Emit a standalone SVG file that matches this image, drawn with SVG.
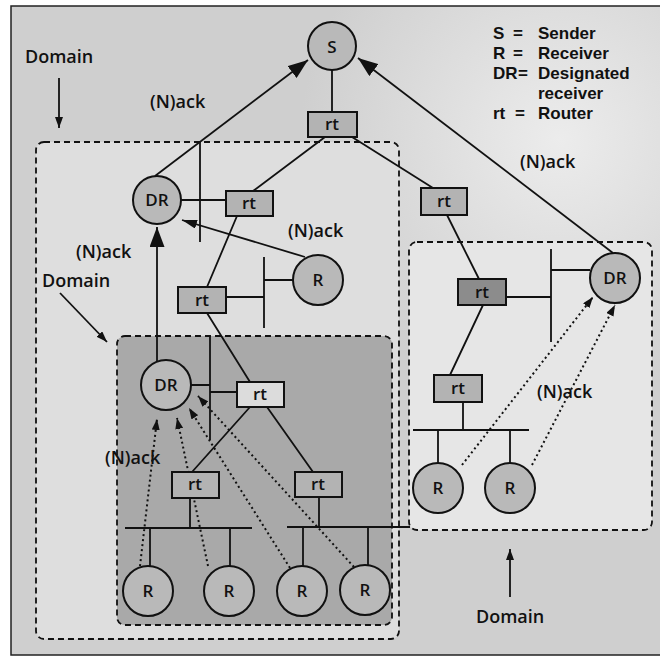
<svg xmlns="http://www.w3.org/2000/svg" width="660" height="658" viewBox="0 0 660 658">
<style>
.t{font-family:"Open Sans","Liberation Sans",sans-serif;font-weight:600;fill:#111}
.lbl{font-size:18px}
.lg{font-family:"Liberation Sans",Arial,sans-serif;font-weight:700;font-size:17px;fill:#111}
.nl{font-size:17px;text-anchor:middle}
.c{fill:#b9b9b9;stroke:#111;stroke-width:2}
.r{fill:#b3b3b3;stroke:#111;stroke-width:2}
.ln{stroke:#111;stroke-width:1.8;fill:none}
.dot{stroke:#111;stroke-width:2;fill:none;stroke-dasharray:2 3}
.dash{stroke:#111;stroke-width:1.8;stroke-dasharray:6 4}
</style>
<defs>
<marker id="big" markerUnits="userSpaceOnUse" viewBox="0 0 20 15" refX="20" refY="7.5" markerWidth="20" markerHeight="15" orient="auto"><path d="M0,0 L20,7.5 L0,15 z" fill="#111"/></marker>
<marker id="mid" markerUnits="userSpaceOnUse" viewBox="0 0 15 9" refX="15" refY="4.5" markerWidth="15" markerHeight="9" orient="auto"><path d="M0,0 L15,4.5 L0,9 z" fill="#111"/></marker>
<marker id="sm" markerUnits="userSpaceOnUse" viewBox="0 0 11 8" refX="11" refY="4" markerWidth="11" markerHeight="8" orient="auto"><path d="M0,0 L11,4 L0,8 z" fill="#111"/></marker>
<radialGradient id="glow" cx="560" cy="140" r="260" gradientUnits="userSpaceOnUse"><stop offset="0" stop-color="#ececec"/><stop offset="1" stop-color="#cfcfcf"/></radialGradient>
</defs>
<rect x="11" y="6" width="652" height="649" fill="url(#glow)" stroke="#222" stroke-width="1.5"/>

<g id="domains">
<rect x="36" y="142" width="363" height="497" rx="8" fill="#dedede" class="dash"/>
<rect x="117" y="336" width="275" height="289" rx="8" fill="#a9a9a9" class="dash"/>
<rect x="409" y="242" width="243" height="288" rx="8" fill="#e6e6e6" class="dash"/>
</g>

<g id="connectors">
<path class="ln" d="M332,70 V112 M325,137 L253,191 M352,137 L433,188 M181,200 H226 M200,141 V242 M237,216 L207,287 M226,297 H264 M264,257 V328 M264,280 H293 M207,313 L250,382 M191,385 H210 M210,337 V440 M210,392 H237 M250,407 L192,472 M267,407 L313,472 M190,498 V528 M125,528 H252 M150,528 V566 M230,528 V566 M319,497 V527 M287,527 H410 M303,527 V566 M368,527 V565 M447,215 L479,279 M506,297 H551 M551,249 V342 M551,270 H590 M483,305 L450,375 M463,402 V430 M413,430 H529 M438,430 V463 M510,430 V463"/>
<line class="ln" x1="155" y1="176" x2="308" y2="60" marker-end="url(#big)"/>
<line class="ln" x1="613" y1="253" x2="358" y2="58" marker-end="url(#big)"/>
<line class="ln" x1="157" y1="361" x2="157" y2="227" marker-end="url(#big)"/>
<line class="ln" x1="305" y1="257" x2="182" y2="220" marker-end="url(#mid)"/>
<line class="dot" x1="140" y1="566" x2="157" y2="419" marker-end="url(#sm)"/>
<line class="dot" x1="208" y1="566" x2="177" y2="418" marker-end="url(#sm)"/>
<line class="dot" x1="290" y1="568" x2="189" y2="408" marker-end="url(#sm)"/>
<line class="dot" x1="354" y1="567" x2="198" y2="396" marker-end="url(#sm)"/>
<line class="dot" x1="462" y1="465" x2="593" y2="297" marker-end="url(#sm)"/>
<line class="dot" x1="532" y1="465" x2="615" y2="305" marker-end="url(#sm)"/>
<line class="ln" x1="59" y1="78" x2="59" y2="128" marker-end="url(#sm)"/>
<line class="ln" x1="60" y1="293" x2="107" y2="342" marker-end="url(#sm)"/>
<line class="ln" x1="510" y1="597" x2="510" y2="549" marker-end="url(#sm)"/>
</g>

<g id="S"><circle class="c" cx="332" cy="46" r="24"/><text class="t nl" x="332" y="53" font-size="18">S</text></g>
<g id="rtS"><rect class="r" x="308" y="112" width="49" height="25"/><text class="t nl" x="332" y="130">rt</text></g>
<g id="DR1"><circle class="c" cx="157" cy="200" r="24"/><text class="t nl" x="157" y="206">DR</text></g>
<g id="rtL"><rect class="r" x="226" y="191" width="47" height="25"/><text class="t nl" x="249" y="209">rt</text></g>
<g id="Rmid"><circle class="c" cx="318" cy="280" r="25"/><text class="t nl" x="318" y="286">R</text></g>
<g id="rt2"><rect class="r" x="178" y="287" width="48" height="26"/><text class="t nl" x="202" y="306">rt</text></g>
<g id="DR2"><circle class="c" cx="166" cy="385" r="25"/><text class="t nl" x="166" y="391">DR</text></g>
<g id="rt3"><rect class="r" x="237" y="382" width="47" height="25" style="fill:#dcdcdc"/><text class="t nl" x="260" y="400">rt</text></g>
<g id="rt4"><rect class="r" x="172" y="472" width="47" height="26"/><text class="t nl" x="195" y="490">rt</text></g>
<g id="rt5"><rect class="r" x="295" y="472" width="47" height="25"/><text class="t nl" x="318" y="490">rt</text></g>
<g id="R1"><circle class="c" cx="148" cy="591" r="25"/><text class="t nl" x="148" y="597">R</text></g>
<g id="R2"><circle class="c" cx="229" cy="591" r="25"/><text class="t nl" x="229" y="597">R</text></g>
<g id="R3"><circle class="c" cx="302" cy="591" r="25"/><text class="t nl" x="302" y="597">R</text></g>
<g id="R4"><circle class="c" cx="365" cy="590" r="25"/><text class="t nl" x="365" y="596">R</text></g>
<g id="rtR"><rect class="r" x="421" y="188" width="46" height="27"/><text class="t nl" x="444" y="207">rt</text></g>
<g id="rtDark"><rect class="r" x="458" y="279" width="48" height="26" style="fill:#8c8c8c"/><text class="t nl" x="482" y="298">rt</text></g>
<g id="rtLow"><rect class="r" x="434" y="375" width="48" height="27"/><text class="t nl" x="458" y="394">rt</text></g>
<g id="DR3"><circle class="c" cx="615" cy="278" r="25"/><text class="t nl" x="615" y="284">DR</text></g>
<g id="R5"><circle class="c" cx="438" cy="488" r="25"/><text class="t nl" x="438" y="494">R</text></g>
<g id="R6"><circle class="c" cx="510" cy="488" r="25"/><text class="t nl" x="510" y="494">R</text></g>

<g id="labels" class="t lbl">
<text x="25" y="63">Domain</text>
<text x="42" y="287">Domain</text>
<text x="476" y="623">Domain</text>
<text x="150" y="108">(N)ack</text>
<text x="520" y="168">(N)ack</text>
<text x="288" y="237">(N)ack</text>
<text x="76" y="258">(N)ack</text>
<text x="105" y="464">(N)ack</text>
<text x="537" y="398">(N)ack</text>
</g>

<g id="legend" class="lg">
<text y="39"><tspan x="493">S</tspan><tspan x="513">=</tspan><tspan x="538">Sender</tspan></text>
<text y="59"><tspan x="493">R</tspan><tspan x="513">=</tspan><tspan x="538">Receiver</tspan></text>
<text y="79"><tspan x="493">DR</tspan><tspan x="518">=</tspan><tspan x="538">Designated</tspan></text>
<text y="99"><tspan x="538">receiver</tspan></text>
<text y="119"><tspan x="493">rt</tspan><tspan x="515">=</tspan><tspan x="538">Router</tspan></text>
</g>
</svg>
